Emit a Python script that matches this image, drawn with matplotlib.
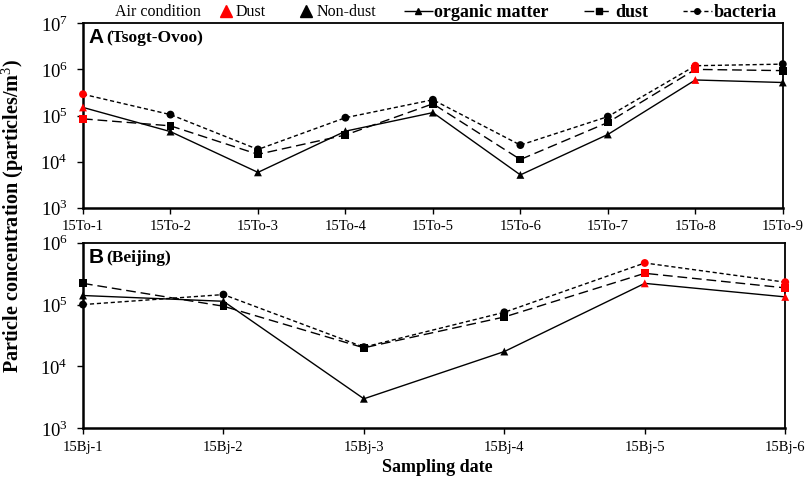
import numpy as np
import matplotlib
matplotlib.use("Agg")
import matplotlib.pyplot as plt
from matplotlib.lines import Line2D

plt.rcParams['font.family'] = ['Liberation Serif', 'DejaVu Serif']
plt.rcParams['mathtext.fontset'] = 'custom'
plt.rcParams['mathtext.rm'] = 'Liberation Serif'

# Panel A: Tsogt-Ovoo
sites_a = ['15To-1', '15To-2', '15To-3', '15To-4', '15To-5',
           '15To-6', '15To-7', '15To-8', '15To-9']
organic_a = [1.5e5, 4.5e4, 5.9e3, 4.6e4, 1.16e5, 5.2e3, 3.9e4, 5.9e5, 5.2e5]
dust_a = [8.5e4, 6.0e4, 1.45e4, 3.8e4, 1.8e5, 1.12e4, 7.1e4, 1.0e6, 9.4e5]
bacteria_a = [2.9e5, 1.05e5, 1.85e4, 9.0e4, 2.2e5, 2.3e4, 9.5e4, 1.2e6, 1.3e6]
dusty_a = [True, False, False, False, False, False, False, True, False]

# Panel B: Beijing
sites_b = ['15Bj-1', '15Bj-2', '15Bj-3', '15Bj-4', '15Bj-5', '15Bj-6']
organic_b = [1.4e5, 1.13e5, 3.0e3, 1.74e4, 2.2e5, 1.33e5]
dust_b = [2.2e5, 9.4e4, 2.0e4, 6.3e4, 3.2e5, 1.86e5]
bacteria_b = [1.0e5, 1.45e5, 2.05e4, 7.5e4, 4.7e5, 2.3e5]
dusty_b = [False, False, False, False, True, True]

series_styles = [
    ('organic matter', '^', (0, ())),
    ('dust', 's', (0, (7, 3.5))),
    ('bacteria', 'o', (0, (3, 2))),
]


def draw_panel(ax, sites, values, dusty, decades, letter, place):
    x = np.arange(len(sites))
    colors = ['red' if d else 'black' for d in dusty]
    for (name, marker, ls), vals in zip(series_styles, values):
        ax.plot(x, vals, color='black', lw=1.0, linestyle=ls, zorder=2)
        ax.scatter(x, vals, marker=marker, c=colors, s=32, zorder=3,
                   clip_on=False, linewidths=0)
    ax.set_yscale('log')
    ax.set_ylim(10.0 ** decades[0], 10.0 ** decades[-1])
    ax.set_yticks([10.0 ** k for k in decades])
    ax.set_yticklabels(['$10^{%d}$' % k for k in decades])
    ax.set_xlim(0, len(sites) - 1)
    ax.set_xticks(x)
    ax.set_xticklabels(sites, fontsize=10.5)
    ax.minorticks_off()
    ax.tick_params(axis='both', direction='out', length=4, width=1)
    ax.tick_params(axis='y', labelsize=13.5, pad=7)
    ax.tick_params(axis='x', pad=5)
    for s in ['top', 'right']:
        ax.spines[s].set_linewidth(1.3)
    for s in ['left', 'bottom']:
        ax.spines[s].set_linewidth(1.8)
    ax.text(0.008, 0.92, letter, transform=ax.transAxes, fontsize=15,
            fontweight='bold', family='Liberation Sans', va='center')
    ax.text(0.033, 0.92, place, transform=ax.transAxes, fontsize=12.5,
            fontweight='bold', va='center')


fig = plt.figure(figsize=(8.09, 4.8), dpi=100)
ax_a = fig.add_axes([0.1026, 0.5667, 0.865, 0.385])
ax_b = fig.add_axes([0.1026, 0.1077, 0.868, 0.3867])

draw_panel(ax_a, sites_a, [organic_a, dust_a, bacteria_a], dusty_a,
           [3, 4, 5, 6, 7], 'A', '(Tsogt-Ovoo)')
draw_panel(ax_b, sites_b, [organic_b, dust_b, bacteria_b], dusty_b,
           [3, 4, 5, 6], 'B', '(Beijing)')

# legend along the top
fig.text(0.142, 0.974, 'Air condition', fontsize=11.5, va='center')
cond_handles = [
    Line2D([], [], marker='^', color='red', ls='none', markersize=9),
    Line2D([], [], marker='^', color='black', ls='none', markersize=9),
]
leg1 = fig.legend(cond_handles, ['Dust', 'Non-dust'], loc='center left',
                  bbox_to_anchor=(0.271, 0.974), ncol=2, frameon=False,
                  fontsize=11.5, handlelength=0.8, handletextpad=0.25,
                  columnspacing=2.1, borderpad=0, borderaxespad=0)
ser_handles = [Line2D([], [], color='black', lw=1.0, ls=ls, marker=m,
                      markersize=4) for _, m, ls in series_styles]
leg2 = fig.legend(ser_handles, [s[0] for s in series_styles],
                  loc='center left', bbox_to_anchor=(0.499, 0.974), ncol=3,
                  frameon=False, handlelength=1.6,
                  handletextpad=0.1, columnspacing=1.95, borderpad=0,
                  borderaxespad=0, prop={'weight': 'bold', 'size': 13})

fig.text(0.016, 0.55, 'Particle concentration (particles/m$^3$)',
         rotation=90, fontsize=14.5, fontweight='bold', va='center', ha='center')
fig.text(0.54, 0.025, 'Sampling date', fontsize=13, fontweight='bold',
         ha='center', va='center')

fig.savefig('out.png', dpi=100)
